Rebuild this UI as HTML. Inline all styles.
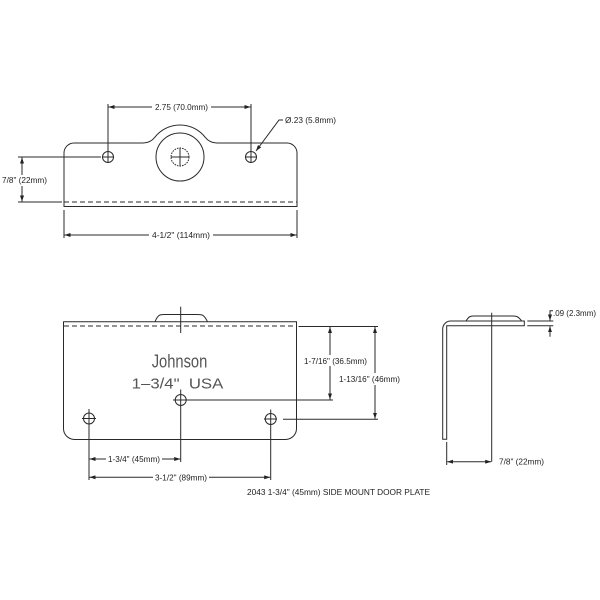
<!DOCTYPE html>
<html><head><meta charset="utf-8"><style>
html,body{margin:0;padding:0;background:#fff;}
svg{display:block;}
text{font-family:"Liberation Sans",Arial,sans-serif;fill:#222;}
</style></head><body>
<svg width="600" height="600" viewBox="0 0 600 600" xmlns="http://www.w3.org/2000/svg">
<defs>
<marker id="a" viewBox="0 0 6 4" refX="6" refY="2" markerWidth="6" markerHeight="4" orient="auto" markerUnits="userSpaceOnUse"><path d="M0,0 L6,2 L0,4 z" fill="#222"/></marker>
</defs>
<g stroke="#2a2a2a" stroke-width="1" fill="none">
<!-- TOP VIEW -->
<path d="M74,143 L143,143 A15,15 0 0 0 154.8,137.3 A32,32 0 0 1 205.2,137.3 A15,15 0 0 0 217,143 L287,143 A10,10 0 0 1 297,153 L297,206.5 L64,206.5 L64,153 A10,10 0 0 1 74,143 Z"/>
<line x1="64" y1="202" x2="297" y2="202" stroke-dasharray="5,3"/>
<circle cx="180" cy="157" r="24"/>
<circle cx="180" cy="157" r="9" stroke-dasharray="1.6,1"/>
<line x1="171" y1="157" x2="189" y2="157"/>
<line x1="180" y1="148" x2="180" y2="166"/>
<circle cx="108" cy="157" r="5.5"/>
<line x1="102" y1="157" x2="114" y2="157"/>
<line x1="108" y1="104" x2="108" y2="163"/>
<circle cx="251" cy="157" r="5.5"/>
<line x1="245" y1="157" x2="257" y2="157"/>
<line x1="251" y1="104" x2="251" y2="163"/>
<line x1="152" y1="107" x2="108.5" y2="107" marker-end="url(#a)"/>
<line x1="211" y1="107" x2="250.5" y2="107" marker-end="url(#a)"/>
<polyline points="283,120 279,120 256,151" marker-end="url(#a)"/>
<line x1="18" y1="157" x2="101" y2="157"/>
<line x1="18" y1="202" x2="62" y2="202"/>
<line x1="22" y1="175" x2="22" y2="157.5" marker-end="url(#a)"/>
<line x1="22" y1="186" x2="22" y2="201.5" marker-end="url(#a)"/>
<line x1="64" y1="210" x2="64" y2="238"/>
<line x1="297" y1="210" x2="297" y2="238"/>
<line x1="149" y1="235" x2="64.5" y2="235" marker-end="url(#a)"/>
<line x1="213" y1="235" x2="296.5" y2="235" marker-end="url(#a)"/>

<!-- FRONT VIEW -->
<path d="M63.5,321.7 L296.5,321.7 L296.5,428.5 A11,11 0 0 1 285.5,439.5 L74.5,439.5 A11,11 0 0 1 63.5,428.5 Z"/>
<line x1="64" y1="326" x2="297" y2="326" stroke-dasharray="5,3"/>
<path d="M155,321.7 C158,314.5 160,314.5 164,314.5 L198,314.5 C202,314.5 204,314.5 207.5,321.7"/>
<line x1="180.7" y1="306.7" x2="180.7" y2="333"/>
<circle cx="180.7" cy="400" r="5.5"/>
<line x1="180.7" y1="389.5" x2="180.7" y2="462"/>
<line x1="173" y1="400" x2="333" y2="400"/>
<circle cx="89" cy="418.5" r="5.5"/>
<line x1="82" y1="418.5" x2="96" y2="418.5"/>
<line x1="89" y1="409" x2="89" y2="480"/>
<circle cx="270.7" cy="419" r="5.5"/>
<line x1="264" y1="419" x2="277" y2="419"/>
<line x1="270.7" y1="409.5" x2="270.7" y2="480"/>
<line x1="283" y1="419.3" x2="378" y2="419.3"/>
<line x1="298.5" y1="326.5" x2="378" y2="326.5"/>
<line x1="330" y1="355" x2="330" y2="327" marker-end="url(#a)"/>
<line x1="330" y1="366" x2="330" y2="399.5" marker-end="url(#a)"/>
<line x1="375" y1="373" x2="375" y2="327" marker-end="url(#a)"/>
<line x1="375" y1="385" x2="375" y2="418.8" marker-end="url(#a)"/>
<line x1="106" y1="459" x2="89.5" y2="459" marker-end="url(#a)"/>
<line x1="162" y1="459" x2="180.2" y2="459" marker-end="url(#a)"/>
<line x1="153" y1="477.3" x2="89.5" y2="477.3" marker-end="url(#a)"/>
<line x1="209" y1="477.3" x2="270.2" y2="477.3" marker-end="url(#a)"/>

<!-- SIDE VIEW -->
<path d="M446.7,439.3 L442.7,439.3 L442.7,329 A8,8 0 0 1 450.7,321 L524.3,321 L524.3,325.7 L446.7,325.7 Z"/>
<path d="M466,321 C469,316 471,316 474,316 L512,316 C516,316 518,316 521.7,321"/>
<line x1="491.7" y1="312.7" x2="491.7" y2="461.7"/>
<line x1="527.3" y1="321" x2="553.3" y2="321"/>
<line x1="527.3" y1="325.7" x2="553.3" y2="325.7"/>
<polyline points="553,310.7 550,310.7 550,320.5" marker-end="url(#a)"/>
<line x1="550" y1="336.7" x2="550" y2="326.2" marker-end="url(#a)"/>
<line x1="446.7" y1="442" x2="446.7" y2="465"/>
<line x1="470" y1="461.7" x2="447.2" y2="461.7" marker-end="url(#a)"/>
<line x1="470" y1="461.7" x2="491.2" y2="461.7" marker-end="url(#a)"/>
</g>

<g font-size="8">
<text x="181.5" y="110" text-anchor="middle" textLength="53" lengthAdjust="spacingAndGlyphs">2.75 (70.0mm)</text>
<text x="285" y="123" textLength="51" lengthAdjust="spacingAndGlyphs">Ø.23 (5.8mm)</text>
<text x="2" y="183" textLength="45" lengthAdjust="spacingAndGlyphs">7/8" (22mm)</text>
<text x="181" y="238" text-anchor="middle" textLength="58" lengthAdjust="spacingAndGlyphs">4-1/2" (114mm)</text>
<text x="304" y="364" textLength="63" lengthAdjust="spacingAndGlyphs">1-7/16" (36.5mm)</text>
<text x="339" y="382" textLength="61" lengthAdjust="spacingAndGlyphs">1-13/16" (46mm)</text>
<text x="108" y="462" textLength="52" lengthAdjust="spacingAndGlyphs">1-3/4" (45mm)</text>
<text x="155" y="480.3" textLength="52" lengthAdjust="spacingAndGlyphs">3-1/2" (89mm)</text>
<text x="247" y="495" textLength="183" lengthAdjust="spacingAndGlyphs">2043 1-3/4" (45mm) SIDE MOUNT DOOR PLATE</text>
<text x="553" y="316" textLength="43" lengthAdjust="spacingAndGlyphs">.09 (2.3mm)</text>
<text x="499" y="464.7" textLength="45" lengthAdjust="spacingAndGlyphs">7/8" (22mm)</text>
</g>
<text x="151.7" y="367.3" font-size="18" style="fill:#555" textLength="55.6" lengthAdjust="spacingAndGlyphs">Johnson</text>
<text x="131.7" y="388.3" font-size="14.5" style="fill:#555" textLength="91.6" lengthAdjust="spacingAndGlyphs">1–3/4"&#160; USA</text>
</svg>
</body></html>
